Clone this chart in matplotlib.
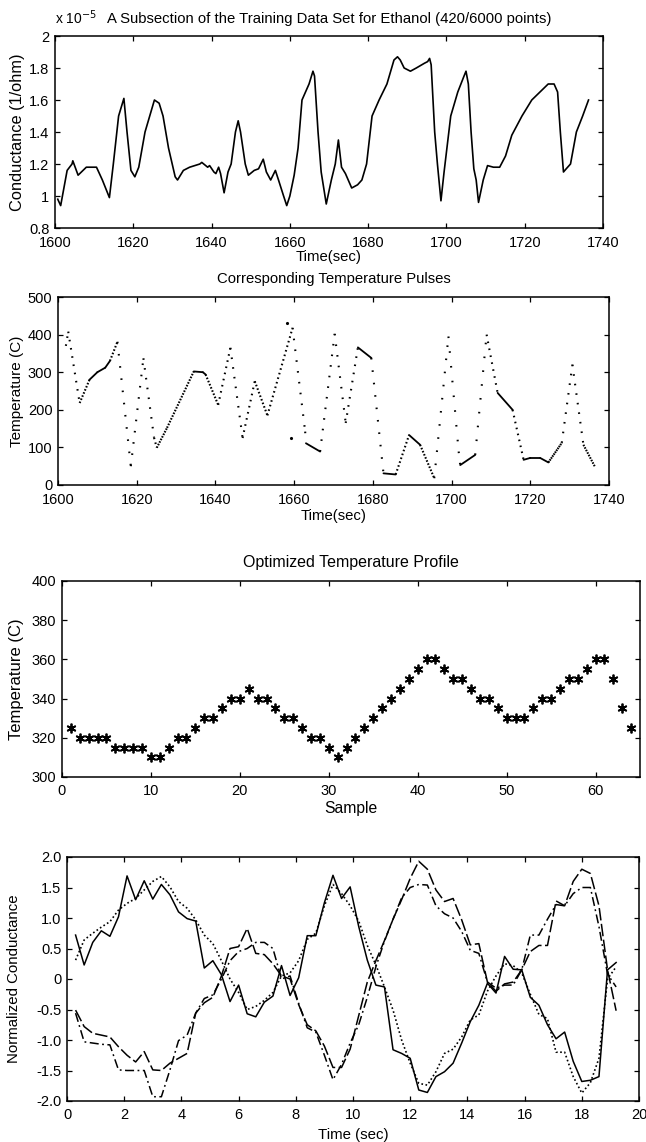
import matplotlib
matplotlib.use("Agg")
import matplotlib.pyplot as plt
import numpy as np

plt.rcParams['font.family'] = ['Liberation Sans', 'DejaVu Sans']
plt.rcParams['font.size'] = 10
plt.rcParams['axes.unicode_minus'] = False
plt.rcParams['lines.scale_dashes'] = False

W, H = 646, 1142

# --- panel 1 : conductance (x 1e-5) ---
cond_t = [1600.7, 1601.45, 1603.1, 1604.35, 1604.55, 1605.9, 1608.0, 1610.6, 1612.1, 1613.9,
          1614.9, 1616.25, 1617.6, 1618.4, 1619.4, 1620.4, 1621.4, 1623.0, 1625.4, 1626.6,
          1627.6, 1629.0, 1630.7, 1631.3, 1632.8, 1634.4, 1637.0, 1637.5, 1639.0, 1639.5,
          1640.6, 1641.1, 1641.8, 1642.3, 1643.2, 1644.2, 1645.0, 1646.1, 1646.8, 1647.4,
          1648.6, 1649.4, 1650.9, 1652.0, 1653.2, 1654.0, 1655.1, 1656.3, 1657.1, 1658.4,
          1659.2, 1660.0, 1661.1, 1662.1, 1663.1, 1664.9, 1665.9, 1666.3, 1667.2, 1668.0,
          1669.3, 1670.6, 1671.6, 1672.4, 1673.2, 1674.2, 1675.8, 1677.3, 1678.4, 1679.6,
          1681.0, 1682.8, 1684.8, 1686.6, 1687.5, 1688.2, 1689.2, 1690.8, 1692.3, 1694.4,
          1695.2, 1695.7, 1696.1, 1697.0, 1697.7, 1698.6, 1699.4, 1701.1, 1702.9, 1704.5,
          1705.0, 1705.6, 1706.3, 1707.0, 1707.6, 1708.2, 1709.4, 1710.5, 1712.0, 1713.6,
          1715.1, 1716.7, 1719.3, 1721.8, 1723.9, 1726.0, 1727.5, 1728.4, 1729.1, 1729.9,
          1730.6, 1731.7, 1733.2, 1734.8, 1736.3]
cond_v = [0.98, 0.94, 1.16, 1.20, 1.22, 1.13, 1.18, 1.18, 1.10, 0.99,
          1.20, 1.50, 1.61, 1.40, 1.16, 1.12, 1.18, 1.40, 1.60, 1.58,
          1.50, 1.30, 1.12, 1.10, 1.16, 1.18, 1.20, 1.21, 1.18, 1.19,
          1.15, 1.14, 1.18, 1.14, 1.02, 1.15, 1.20, 1.40, 1.47, 1.40,
          1.20, 1.13, 1.16, 1.17, 1.23, 1.15, 1.10, 1.16, 1.10, 1.00,
          0.94, 1.00, 1.13, 1.30, 1.60, 1.70, 1.78, 1.75, 1.40, 1.15,
          0.95, 1.10, 1.20, 1.35, 1.18, 1.14, 1.05, 1.07, 1.10, 1.20,
          1.50, 1.60, 1.70, 1.85, 1.87, 1.85, 1.80, 1.78, 1.80, 1.83,
          1.84, 1.86, 1.82, 1.40, 1.20, 0.97, 1.15, 1.50, 1.65, 1.75,
          1.78, 1.70, 1.40, 1.17, 1.10, 0.96, 1.10, 1.19, 1.18, 1.18,
          1.25, 1.38, 1.50, 1.60, 1.65, 1.70, 1.70, 1.65, 1.40, 1.15,
          1.17, 1.20, 1.40, 1.50, 1.60]

# --- panel 2 : temperature pulses (sampled 3 times per second) ---
temp_t = [1602.0, 1602.6, 1605.5, 1608.0, 1610.0, 1612.0, 1613.2, 1615.1, 1618.5, 1621.7,
          1624.4, 1625.1, 1627.7, 1634.5, 1636.8, 1637.5, 1640.7, 1643.8, 1646.9, 1650.0,
          1653.2, 1659.6, 1662.8, 1663.0, 1666.6, 1670.3, 1673.1, 1676.2, 1679.6, 1682.7,
          1685.8, 1689.2, 1692.0, 1695.6, 1699.2, 1701.8, 1702.2, 1706.0, 1708.9, 1711.7,
          1715.5, 1718.3, 1720.0, 1722.5, 1724.6, 1728.0, 1730.7, 1733.5, 1736.5]
temp_v = [370, 408, 218, 280, 300, 312, 330, 381, 50, 337,
          126, 99, 152, 302, 300, 294, 213, 365, 125, 276,
          185, 418, 142, 111, 89, 402, 165, 366, 338, 31,
          28, 133, 107, 18, 395, 89, 53, 80, 400, 245,
          200, 67, 72, 72, 60, 112, 320, 107, 47]
stray_t = [1658.3, 1659.2]
stray_v = [430, 125]
SAMPLES_PER_SEC = 3

# --- panel 3 : optimized profile ---
sample = list(range(1, 65))
profile = [325, 320, 320, 320, 320, 315, 315, 315, 315, 310,
           310, 315, 320, 320, 325, 330, 330, 335, 340, 340,
           345, 340, 340, 335, 330, 330, 325, 320, 320, 315,
           310, 315, 320, 325, 330, 335, 340, 345, 350, 355,
           360, 360, 355, 350, 350, 345, 340, 340, 335, 330,
           330, 330, 335, 340, 340, 345, 350, 350, 355, 360,
           360, 350, 335, 325]

# --- panel 4 : normalized conductance, 64 samples at 0.3 s ---
t4 = [0.3 * k for k in range(1, 65)]
meas_a = [0.72, 0.23, 0.60, 0.79, 0.70, 1.02, 1.69, 1.30, 1.61, 1.31,
          1.55, 1.38, 1.10, 0.99, 0.95, 0.18, 0.30, 0.07, -0.37, -0.10,
          -0.57, -0.62, -0.38, -0.28, 0.22, -0.27, 0.02, 0.71, 0.71, 1.25,
          1.70, 1.32, 1.51, 0.86, 0.31, -0.10, -0.13, -1.16, -1.22, -1.30,
          -1.82, -1.86, -1.60, -1.52, -1.38, -1.05, -0.70, -0.43, -0.07, -0.23,
          0.37, 0.16, 0.15, -0.30, -0.43, -0.75, -0.98, -0.87, -1.35, -1.68,
          -1.66, -1.60, 0.15, 0.27]
model_a = [0.31, 0.64, 0.75, 0.85, 0.94, 1.13, 1.24, 1.32, 1.46, 1.60,
           1.68, 1.51, 1.27, 1.16, 0.97, 0.72, 0.58, 0.30, 0.00, -0.22,
           -0.50, -0.45, -0.35, -0.22, 0.05, 0.10, 0.30, 0.65, 0.75, 1.20,
           1.55, 1.40, 1.20, 0.95, 0.55, 0.23, -0.13, -0.51, -1.00, -1.38,
           -1.71, -1.74, -1.52, -1.22, -1.15, -0.95, -0.67, -0.59, -0.20, 0.05,
           0.25, 0.22, 0.10, -0.25, -0.58, -0.65, -1.20, -1.20, -1.60, -1.87,
           -1.70, -1.30, 0.00, 0.20]
meas_b = [-0.51, -0.78, -0.89, -0.92, -0.95, -1.11, -1.25, -1.36, -1.19, -1.49,
          -1.50, -1.38, -1.30, -1.22, -0.56, -0.39, -0.30, 0.05, 0.50, 0.53,
          0.83, 0.42, 0.40, 0.25, 0.05, 0.00, -0.42, -0.75, -0.85, -1.10,
          -1.45, -1.45, -1.15, -0.60, -0.05, 0.30, 0.63, 0.98, 1.30, 1.65,
          1.93, 1.80, 1.46, 1.27, 1.32, 0.97, 0.56, 0.58, -0.05, -0.20,
          -0.08, -0.05, 0.15, 0.45, 0.55, 0.55, 1.28, 1.20, 1.60, 1.80,
          1.73, 1.20, 0.15, -0.52]
model_b = [-0.56, -1.03, -1.05, -1.07, -1.08, -1.49, -1.50, -1.50, -1.50, -1.93,
           -1.93, -1.49, -1.01, -0.92, -0.56, -0.32, -0.26, 0.00, 0.30, 0.45,
           0.50, 0.60, 0.60, 0.50, 0.00, 0.05, -0.40, -0.80, -0.87, -1.25,
           -1.65, -1.40, -1.05, -0.75, -0.30, 0.20, 0.62, 0.98, 1.33, 1.50,
           1.55, 1.54, 1.20, 1.07, 1.00, 0.78, 0.47, 0.42, -0.05, -0.15,
           -0.10, -0.10, 0.15, 0.72, 0.72, 0.98, 1.22, 1.20, 1.40, 1.50,
           1.50, 0.86, 0.08, -0.13]

TICK_FS = 10.5


def box(left, top, right, bottom):
    return [left / W, 1 - bottom / H, (right - left) / W, (bottom - top) / H]


def matlab_style(ax, xpad=4, ypad=3):
    ax.tick_params(direction="in", top=True, right=True, length=3.5, width=0.9,
                   labelsize=TICK_FS)
    ax.tick_params(axis="x", pad=xpad)
    ax.tick_params(axis="y", pad=ypad)
    for s in ax.spines.values():
        s.set_linewidth(1.1)


fig = plt.figure(figsize=(W / 100, H / 100), dpi=100)

# panel 1
ax1 = fig.add_axes(box(55, 36, 603, 228))
ax1.plot(cond_t, cond_v, color="black", lw=1.2)
ax1.set_xlim(1600, 1740)
ax1.set_ylim(0.8, 2.0)
ax1.set_xticks(range(1600, 1741, 20))
ax1.set_yticks([0.8, 1.0, 1.2, 1.4, 1.6, 1.8, 2.0])
ax1.set_yticklabels(["0.8", "1", "1.2", "1.4", "1.6", "1.8", "2"])
matlab_style(ax1, xpad=6, ypad=4)
ax1.set_title("A Subsection of the Training Data Set for Ethanol (420/6000 points)",
              fontsize=10.7, pad=9)
ax1.text(0.0, 1.045, r"x 10$^{-5}$", transform=ax1.transAxes, fontsize=10,
         ha="left", va="bottom")
ax1.set_xlabel("Time(sec)", fontsize=10.7, labelpad=0)
ax1.set_ylabel("Conductance (1/ohm)", fontsize=11.8)
ax1.yaxis.set_label_coords((25 - 55) / 548, 0.5)

# panel 2 : each ramp drawn as a dot train, one dot per sample (3 per second)
ax2 = fig.add_axes(box(58, 297, 609, 485))
ax2.set_xlim(1600, 1740)
ax2.set_ylim(0, 500)
fig.canvas.draw()
for i in range(len(temp_t) - 1):
    seg_t = temp_t[i:i + 2]
    seg_v = temp_v[i:i + 2]
    p0, p1 = ax2.transData.transform(np.column_stack([seg_t, seg_v]))
    length_px = float(np.hypot(*(p1 - p0)))
    n_steps = max((seg_t[1] - seg_t[0]) * SAMPLES_PER_SEC, 1)
    step_px = length_px / n_steps
    if step_px < 2.3:
        ax2.plot(seg_t, seg_v, color="black", lw=1.3, solid_capstyle="round")
    else:
        on = 1.6 * 0.72
        off = (step_px - 1.6) * 0.72
        ax2.plot(seg_t, seg_v, color="black", lw=1.5, linestyle=(0, (on, off)),
                 dash_capstyle="butt")
ax2.plot(stray_t, stray_v, ".", color="black", ms=2.5)
ax2.set_xticks(range(1600, 1741, 20))
ax2.set_yticks(range(0, 501, 100))
matlab_style(ax2, xpad=6, ypad=4)
ax2.set_title("Corresponding Temperature Pulses", fontsize=10.7, pad=10)
ax2.set_xlabel("Time(sec)", fontsize=10.7, labelpad=1.5)
ax2.set_ylabel("Temperature (C)", fontsize=11)
ax2.yaxis.set_label_coords((24 - 58) / 551, 0.5)

# panel 3
ax3 = fig.add_axes(box(62, 581, 640, 777))
ax3.plot(sample, profile, linestyle="none", marker=(6, 2, 0), ms=7, mew=1.3,
         color="black")
ax3.set_xlim(0, 65)
ax3.set_ylim(300, 400)
ax3.set_xticks(range(0, 61, 10))
ax3.set_yticks(range(300, 401, 20))
matlab_style(ax3, xpad=5, ypad=4)
ax3.set_title("Optimized Temperature Profile", fontsize=11.5, pad=10)
ax3.set_xlabel("Sample", fontsize=11.3, labelpad=2)
ax3.set_ylabel("Temperature (C)", fontsize=12)
ax3.yaxis.set_label_coords((24 - 62) / 578, 0.5)

# panel 4
ax4 = fig.add_axes(box(67, 857, 639, 1101))
ax4.plot(t4, meas_a, color="black", lw=1.1, linestyle="-")
ax4.plot(t4, model_a, color="black", lw=1.2, linestyle=(0, (1.2, 1.8)))
ax4.plot(t4, meas_b, color="black", lw=1.1, linestyle=(0, (9, 2.5)))
ax4.plot(t4, model_b, color="black", lw=1.1, linestyle=(0, (6.5, 2.5, 1.3, 2.5)))
ax4.set_xlim(0, 20)
ax4.set_ylim(-2, 2)
ax4.set_xticks(range(0, 21, 2))
ax4.set_yticks([2.0, 1.5, 1.0, 0.5, 0.0, -0.5, -1.0, -1.5, -2.0])
ax4.set_yticklabels(["2.0", "1.5", "1.0", "0.5", "0", "-0.5", "-1.0", "-1.5", "-2.0"])
matlab_style(ax4, xpad=5, ypad=4)
ax4.set_xlabel("Time (sec)", fontsize=10.8, labelpad=4)
ax4.set_ylabel("Normalized Conductance", fontsize=10.8)
ax4.yaxis.set_label_coords((21 - 67) / 572, 0.5)

fig.savefig("out.png", dpi=100)
